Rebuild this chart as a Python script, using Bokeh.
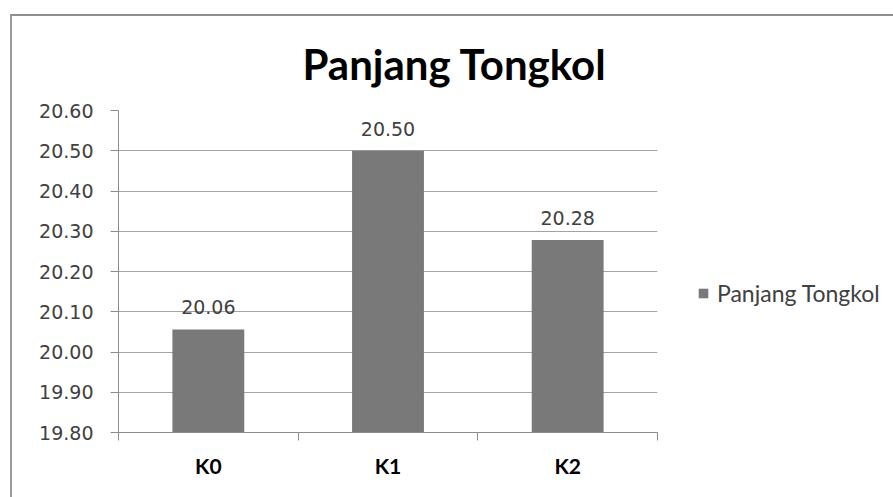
from bokeh.plotting import figure
from bokeh.models import (Range1d, LinearAxis, FixedTicker,
                          NumeralTickFormatter, ColumnDataSource, LabelSet, Legend, LegendItem)
from bokeh.core.properties import value
from bokeh.embed import file_html
from bokeh.resources import INLINE

# ---- data ----
categories = ["K0", "K1", "K2"]
values = [20.056, 20.50, 20.278]
series_name = "Panjang Tongkol"
chart_title = "Panjang Tongkol"
y_min, y_max = 19.80, 20.60
y_ticks = [19.80, 19.90, 20.00, 20.10, 20.20, 20.30, 20.40, 20.50, 20.60]
value_labels = [f"{v:.2f}" for v in values]

n = len(categories)
centers = [i + 0.5 for i in range(n)]
edges = list(range(n + 1))

src = ColumnDataSource(dict(x=centers, val=values, lab=value_labels))

BAR = "#797979"
GRID = "#a3a3a3"
TXT = "#404040"

p = figure(frame_width=539, frame_height=322,
           x_range=Range1d(0, n),
           y_range=Range1d(y_min, y_max),
           x_axis_location=None,
           output_backend="svg", toolbar_location=None,
           min_border_left=106, min_border_right=234,
           min_border_top=94, min_border_bottom=65,
           title=chart_title)
p.margin = (14, 0, 0, 10)
p.styles = {"border-top": "2px solid #8f8f8f", "border-left": "2px solid #9a9a9a",
            "border-right": "2px solid #d0d0d0"}
p.outline_line_color = None
p.background_fill_color = "white"
p.border_fill_color = "white"

# title
p.title.align = "left"
p.title.offset = 184
p.title.vertical_align = "top"
p.title.text_font = "Lato"
p.title.text_font_style = "bold"
p.title.text_font_size = "42px"
p.title.text_color = "black"
p.title.standoff = 40

# grid
p.xgrid.visible = False
p.ygrid.ticker = FixedTicker(ticks=y_ticks)
p.ygrid.grid_line_color = GRID
p.ygrid.grid_line_width = 1.2

# y axis
ya = p.yaxis[0]
ya.ticker = FixedTicker(ticks=y_ticks)
ya.formatter = NumeralTickFormatter(format="0.00")
ya.major_label_text_font = "DejaVu Sans"
ya.major_label_text_font_size = "19px"
ya.major_label_text_color = TXT
ya.axis_line_color = "#8c8c8c"
ya.major_tick_line_color = "#8c8c8c"
ya.major_tick_out = 8
ya.major_tick_in = 0
ya.minor_tick_line_color = None
ya.major_label_standoff = 17

# x axis: labels at category centers, tick marks at category boundaries
xa = LinearAxis(ticker=FixedTicker(ticks=centers, minor_ticks=edges),
                major_label_overrides={c: lab for c, lab in zip(centers, categories)})
xa.axis_line_color = "#8c8c8c"
xa.major_tick_line_color = None
xa.major_tick_out = 0
xa.major_tick_in = 0
xa.minor_tick_line_color = "#8c8c8c"
xa.minor_tick_out = 8
xa.minor_tick_in = 0
xa.major_label_text_font = "Lato"
xa.major_label_text_font_style = "bold"
xa.major_label_text_font_size = "21px"
xa.major_label_text_color = "black"
xa.major_label_standoff = 12
p.add_layout(xa, "below")

bars = p.vbar(x="x", top="val", bottom=y_min, width=0.4, source=src,
              fill_color=BAR, line_color=None)

labels = LabelSet(x="x", y="val", text="lab", source=src, text_align="center",
                  text_baseline="alphabetic", y_offset=15,
                  text_font=value("DejaVu Sans"), text_font_size="19px", text_color=TXT)
p.add_layout(labels)

legend = Legend(items=[LegendItem(label=series_name, renderers=[bars])],
                location=(40, 125), padding=0, margin=0,
                border_line_color=None, background_fill_alpha=0,
                glyph_width=12, glyph_height=12, label_standoff=8,
                label_text_font="Lato", label_text_font_size="23px",
                label_text_color=TXT)
p.add_layout(legend, "right")

open("out.html", "w").write(file_html(p, INLINE))
